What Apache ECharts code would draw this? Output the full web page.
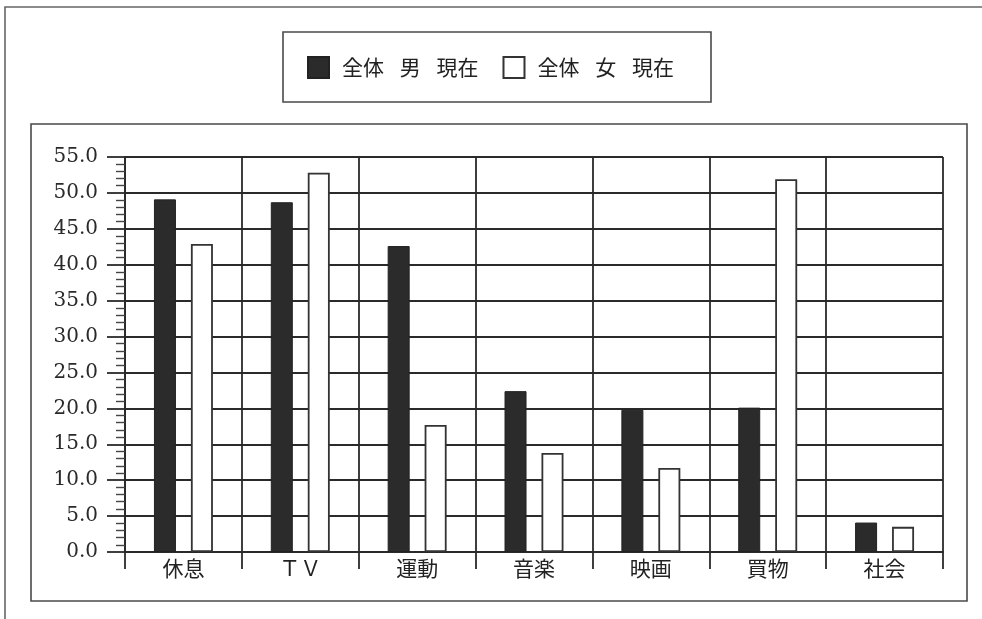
<!DOCTYPE html>
<html>
<head>
<meta charset="utf-8">
<script src="https://cdn.jsdelivr.net/npm/echarts@6/dist/echarts.min.js"></script>
<style>
  html, body { margin: 0; padding: 0; background: #ffffff; }
  #chart { width: 982px; height: 619px; }
</style>
</head>
<body>
<div id="chart"></div>
<script>
// Leisure activities: whole sample, men vs women (current)
const categories = ['休息', 'ＴＶ', '運動', '音楽', '映画', '買物', '社会'];
const maleNow = [49.1, 48.7, 42.6, 22.4, 19.8, 20.1, 4.1];
const femaleNow = [42.9, 52.8, 17.7, 13.8, 11.7, 51.9, 3.5];
const seriesNames = ['全体\u2002\u2005男\u2002\u2005現在', '全体\u2002\u2005女\u2002\u2005現在'];
const yTicks = { min: 0, max: 55, step: 5 };

const ink = '#2a2a2a';
const cjk = '"Noto Sans CJK JP", "Noto Sans", sans-serif';
const numFont = '"DejaVu Serif", "Liberation Serif", serif';

const chart = echarts.init(document.getElementById('chart'), null, { renderer: 'canvas' });

chart.setOption({
  backgroundColor: '#ffffff',
  animation: false,
  graphic: [
    // outer page frame (top and left edges)
    { type: 'polyline', shape: { points: [[5, 619], [5, 7], [982, 7]] },
      style: { stroke: '#666', lineWidth: 1.6, fill: null } },
    // chart panel frame
    { type: 'rect', shape: { x: 31, y: 124, width: 936, height: 477 },
      style: { stroke: '#4a4a4a', lineWidth: 1.6, fill: null } },
    // legend frame
    { type: 'rect', shape: { x: 283, y: 32, width: 428, height: 70 },
      style: { stroke: '#4a4a4a', lineWidth: 1.6, fill: null } }
  ],
  legend: {
    left: 307,
    top: 56,
    padding: 0,
    itemWidth: 21,
    itemHeight: 21,
    itemGap: 24,
    icon: 'rect',
    data: seriesNames,
    textStyle: {
      fontFamily: cjk,
      fontSize: 21,
      color: '#222',
      padding: [0, 0, 0, 8]
    }
  },
  grid: { left: 125, right: 39, top: 157, bottom: 67, containLabel: false },
  xAxis: {
    type: 'category',
    data: categories,
    boundaryGap: true,
    axisLine: { show: true, lineStyle: { color: ink, width: 1.8 } },
    axisTick: { show: true, length: 17, interval: 0, alignWithLabel: false,
      lineStyle: { color: ink, width: 1.8 } },
    splitLine: { show: true, interval: 0, lineStyle: { color: ink, width: 1.8 } },
    axisLabel: { interval: 0, margin: 6, fontFamily: cjk, fontSize: 21, color: '#222' }
  },
  yAxis: {
    type: 'value',
    min: yTicks.min,
    max: yTicks.max,
    interval: yTicks.step,
    axisLine: { show: true, lineStyle: { color: ink, width: 1.8 } },
    axisTick: { show: true, inside: false, length: 18, lineStyle: { color: ink, width: 1.8 } },
    minorTick: { show: true, splitNumber: 5, length: 9, lineStyle: { color: '#444', width: 1.4 } },
    splitLine: { show: true, lineStyle: { color: ink, width: 1.8 } },
    axisLabel: {
      margin: 27,
      fontFamily: numFont,
      fontSize: 20,
      color: '#2a2a2a',
      formatter: v => v.toFixed(1)
    }
  },
  series: [
    {
      name: seriesNames[0],
      type: 'bar',
      data: maleNow,
      barWidth: 22,
      barGap: '68%',
      itemStyle: { color: '#2b2b2b', borderColor: '#222', borderWidth: 1 }
    },
    {
      name: seriesNames[1],
      type: 'bar',
      data: femaleNow,
      barWidth: 22,
      itemStyle: { color: '#ffffff', borderColor: '#333', borderWidth: 1.8 }
    }
  ]
});
</script>
</body>
</html>
